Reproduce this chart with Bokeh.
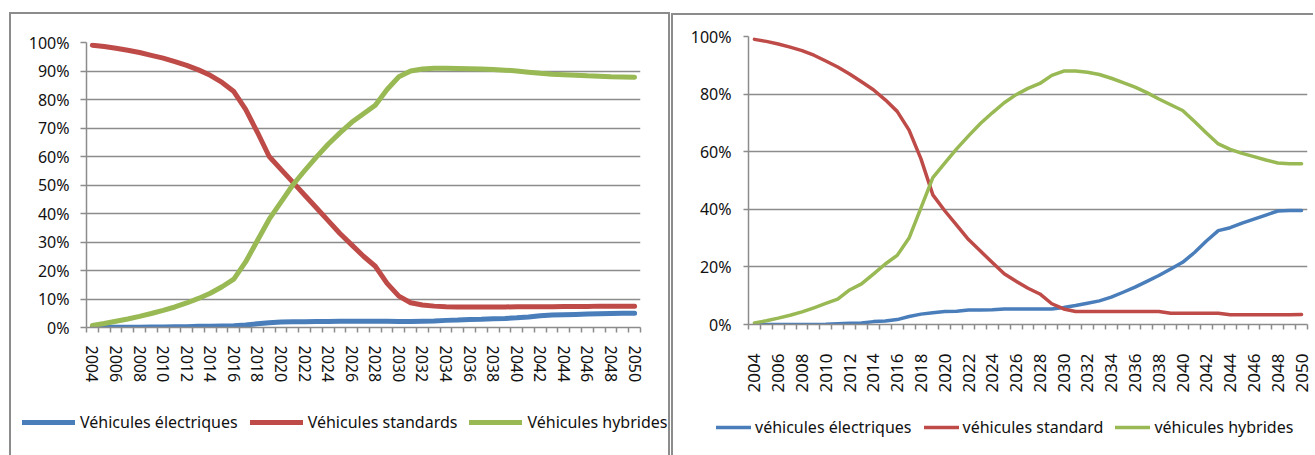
import math
from bokeh.plotting import figure
from bokeh.layouts import row, column
from bokeh.models import (Range1d, FixedTicker, PrintfTickFormatter, Legend,
                          LegendItem)
from bokeh.embed import file_html
from bokeh.resources import INLINE

# ---------------- data ----------------
years = list(range(2004, 2051))
label_years = list(range(2004, 2051, 2))

left_names = ["Véhicules électriques", "Véhicules standards", "Véhicules hybrides"]
right_names = ["véhicules électriques", "véhicules standard", "véhicules hybrides"]

left_electric = [0.1, 0.1, 0.1, 0.1, 0.1, 0.2, 0.2, 0.3, 0.3, 0.4,
                 0.4, 0.5, 0.6, 0.9, 1.3, 1.7, 1.9, 2.0, 2.0, 2.1,
                 2.1, 2.2, 2.2, 2.2, 2.2, 2.2, 2.1, 2.1, 2.2, 2.3,
                 2.5, 2.6, 2.8, 2.9, 3.1, 3.2, 3.4, 3.7, 4.1, 4.4,
                 4.5, 4.6, 4.7, 4.8, 4.9, 5.0, 5.0]
left_standard = [99.0, 98.6, 98.0, 97.3, 96.5, 95.5, 94.5, 93.3, 92.0, 90.4,
                 88.5, 86.0, 82.8, 76.5, 68.5, 60.0, 55.5, 51.0, 46.5, 42.0,
                 37.5, 33.0, 29.0, 25.0, 21.5, 15.5, 11.0, 8.7, 7.9, 7.5,
                 7.3, 7.2, 7.2, 7.2, 7.2, 7.2, 7.3, 7.3, 7.3, 7.3,
                 7.4, 7.4, 7.4, 7.5, 7.5, 7.5, 7.5]
left_hybrid = [0.7, 1.4, 2.2, 3.0, 3.9, 4.9, 6.0, 7.2, 8.6, 10.2,
               12.0, 14.3, 17.0, 23.0, 30.5, 38.0, 44.0, 50.0, 55.0, 59.8,
               64.3, 68.3, 72.0, 75.0, 78.0, 83.5, 88.0, 90.0, 90.7, 91.0,
               91.0, 90.9, 90.8, 90.7, 90.5, 90.3, 90.0, 89.6, 89.2, 88.9,
               88.7, 88.5, 88.3, 88.2, 88.0, 87.9, 87.8]

right_electric = [0.0, 0.0, 0.0, 0.0, 0.0, 0.0, 0.1, 0.3, 0.4, 0.5,
                  1.0, 1.2, 1.7, 2.8, 3.6, 4.1, 4.5, 4.6, 5.0, 5.0,
                  5.1, 5.4, 5.4, 5.4, 5.4, 5.4, 5.9, 6.6, 7.4, 8.2,
                  9.5, 11.2, 13.0, 15.0, 17.0, 19.3, 21.6, 25.0, 29.0, 32.6,
                  33.6, 35.2, 36.6, 38.0, 39.4, 39.6, 39.6]
right_standard = [99.0, 98.3, 97.4, 96.3, 95.1, 93.5, 91.5, 89.4, 87.0, 84.3,
                  81.5, 78.0, 74.0, 67.5, 57.5, 45.0, 39.5, 34.5, 29.5, 25.5,
                  21.5, 17.6, 15.0, 12.6, 10.6, 7.2, 5.4, 4.5, 4.5, 4.5,
                  4.5, 4.5, 4.5, 4.5, 4.5, 3.9, 3.9, 3.9, 3.9, 3.9,
                  3.4, 3.4, 3.4, 3.4, 3.4, 3.4, 3.5]
right_hybrid = [0.5, 1.3, 2.2, 3.2, 4.4, 5.8, 7.3, 8.8, 12.0, 14.1,
                17.5, 21.0, 24.0, 30.0, 40.5, 51.0, 56.0, 61.0, 65.5, 69.8,
                73.5, 77.0, 79.8, 82.0, 83.7, 86.5, 88.0, 88.0, 87.6, 86.8,
                85.5, 84.0, 82.4, 80.5, 78.3, 76.3, 74.3, 70.5, 66.5, 62.7,
                60.8, 59.4, 58.3, 57.1, 56.1, 55.8, 55.8]

left_yticks = list(range(0, 101, 10))
right_yticks = list(range(0, 101, 20))

# ---------------- style ----------------
COLORS = ["#4A7EBB", "#BE4B48", "#98B954"]
GRID = "#8C8C8C"
FONT = "Noto Sans"
TEXT = "#111111"


def make_chart(width, height, mb, series, yticks, lw,
               xlab_orient, xlab_size, xlab_standoff, ylab_size, ylab_standoff,
               ytick_out):
    p = figure(width=width, height=height, output_backend="svg",
               toolbar_location=None,
               x_range=Range1d(2003.5, 2050.5), y_range=Range1d(0, 100),
               min_border_left=mb[0], min_border_right=mb[1],
               min_border_top=mb[2], min_border_bottom=mb[3])
    p.frame_align = False
    p.outline_line_color = None
    p.background_fill_color = "white"
    p.border_fill_color = "white"

    p.xaxis.ticker = FixedTicker(ticks=label_years,
                                 minor_ticks=[y - 0.5 for y in years] + [2050.5])
    p.xaxis.formatter = PrintfTickFormatter(format="%d")
    p.xaxis.major_tick_out = 0
    p.xaxis.major_tick_in = 0
    p.xaxis.minor_tick_out = 5
    p.xaxis.minor_tick_in = 0
    p.xaxis.minor_tick_line_color = GRID
    p.xaxis.minor_tick_line_width = 1.5
    p.xaxis.axis_line_color = GRID
    p.xaxis.axis_line_width = 1.5
    p.xaxis.major_label_orientation = xlab_orient
    p.xaxis.major_label_standoff = xlab_standoff
    p.xaxis.major_label_text_font = FONT
    p.xaxis.major_label_text_font_size = xlab_size
    p.xaxis.major_label_text_color = TEXT

    p.yaxis.ticker = FixedTicker(ticks=yticks, minor_ticks=[])
    p.yaxis.formatter = PrintfTickFormatter(format="%d%%")
    p.yaxis.major_tick_out = ytick_out
    p.yaxis.major_tick_in = 0
    p.yaxis.major_tick_line_color = GRID
    p.yaxis.major_tick_line_width = 1.5
    p.yaxis.axis_line_color = GRID
    p.yaxis.axis_line_width = 1.5
    p.yaxis.major_label_standoff = ylab_standoff
    p.yaxis.major_label_text_font = FONT
    p.yaxis.major_label_text_font_size = ylab_size
    p.yaxis.major_label_text_color = TEXT

    p.xgrid.visible = False
    p.ygrid.ticker = FixedTicker(ticks=yticks)
    p.ygrid.grid_line_color = GRID
    p.ygrid.grid_line_width = 1.5

    for vals, col in zip(series, COLORS):
        p.line(years, vals, line_color=col, line_width=lw,
               line_cap="round", line_join="round")
    return p


def make_legend(width, height, series, names, lw, loc, gw, standoff, spacing, size):
    # legend-only panel: the series lie outside its (0..1) ranges, so only
    # the legend keys and labels are visible
    p = figure(width=width, height=height, output_backend="svg",
               toolbar_location=None, x_axis_type=None, y_axis_type=None,
               x_range=Range1d(0, 1), y_range=Range1d(0, 1),
               min_border_left=0, min_border_right=0,
               min_border_top=0, min_border_bottom=0)
    p.frame_align = False
    p.outline_line_color = None
    p.xgrid.visible = False
    p.ygrid.visible = False
    items = []
    for vals, name, col in zip(series, names, COLORS):
        r = p.line(years, vals, line_color=col, line_width=lw,
                   line_cap="round")
        items.append(LegendItem(label=name, renderers=[r]))
    legend = Legend(items=items, orientation="horizontal", location=loc,
                    glyph_width=gw, glyph_height=24, label_standoff=standoff,
                    spacing=spacing, padding=0, margin=0,
                    border_line_alpha=0, background_fill_alpha=0,
                    label_text_font=FONT, label_text_font_size=size,
                    label_text_color=TEXT)
    p.add_layout(legend)
    return p


BORDER = "2px solid #8c8c8c"

left_series = [left_electric, left_standard, left_hybrid]
right_series = [right_electric, right_standard, right_hybrid]

left_chart = make_chart(657, 388, (75, 28, 28, 75), left_series,
                        left_yticks, 5, -math.pi / 2, "16px", 13, "16px", 11, 6)
left_leg = make_legend(657, 53, left_series, left_names, 5, (11, 21), 53, 5, 12, "16px")
left_box = column(left_chart, left_leg, margin=(12, 0, 0, 9),
                  styles={"border-top": BORDER, "border-left": BORDER,
                          "border-right": BORDER})

right_chart = make_chart(640, 388, (75, 6, 21, 79), right_series,
                         right_yticks, 3.5, math.pi / 2, "17px", 24, "16px", 12, 5)
right_leg = make_legend(640, 52, right_series, right_names, 3.5, (43, 16), 35, 4, 12, "16px")
right_box = column(right_chart, right_leg, margin=(13, 0, 0, 1),
                   styles={"border-top": BORDER, "border-left": BORDER})

layout = row(left_box, right_box)
open("out.html", "w").write(file_html(layout, INLINE))
